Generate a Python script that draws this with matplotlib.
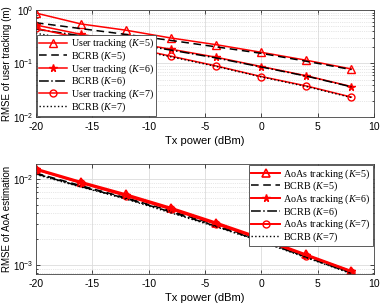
import numpy as np
import matplotlib
matplotlib.use('Agg')
from matplotlib import pyplot as plt
from matplotlib.ticker import LogLocator, NullFormatter

plt.rcParams['font.family'] = 'Liberation Sans'
plt.rcParams['mathtext.fontset'] = 'custom'
plt.rcParams['mathtext.rm'] = 'Liberation Sans'
plt.rcParams['mathtext.it'] = 'Liberation Serif:italic'
plt.rcParams['axes.unicode_minus'] = False

tx_power = [-20, -16, -12, -8, -4, 0, 4, 8]

# user tracking RMSE (m)
ut_k5 = [0.88, 0.55, 0.42, 0.30, 0.225, 0.162, 0.115, 0.079]
bcrb_ut_k5 = [0.58, 0.45, 0.35, 0.27, 0.205, 0.155, 0.11, 0.077]
ut_k6 = [0.525, 0.352, 0.257, 0.185, 0.131, 0.0877, 0.0589, 0.037]
bcrb_ut_k6 = [0.44, 0.33, 0.245, 0.178, 0.127, 0.086, 0.058, 0.0365]
ut_k7 = [0.456, 0.296, 0.207, 0.137, 0.090, 0.057, 0.038, 0.0235]
bcrb_ut_k7 = [0.367, 0.27, 0.197, 0.133, 0.088, 0.056, 0.037, 0.023]

# AoA estimation RMSE
aoa_k5 = [0.0131, 0.0092, 0.0066, 0.0046, 0.0031, 0.00205, 0.00132, 0.00085]
bcrb_aoa_k5 = [0.0116, 0.0083, 0.0060, 0.0042, 0.0029, 0.00192, 0.00125, 0.00081]
aoa_k6 = [0.0128, 0.0090, 0.0064, 0.0045, 0.0030, 0.00200, 0.00129, 0.00084]
bcrb_aoa_k6 = [0.0114, 0.0081, 0.0059, 0.0041, 0.0028, 0.00189, 0.00123, 0.00080]
aoa_k7 = [0.0127, 0.0089, 0.0063, 0.0044, 0.00297, 0.00198, 0.00128, 0.00083]
bcrb_aoa_k7 = [0.0112, 0.0080, 0.0058, 0.0040, 0.00276, 0.00186, 0.00121, 0.00079]

red = '#ff0000'
fig = plt.figure(figsize=(3.82, 3.06), dpi=100)
ax1 = fig.add_axes([0.094, 0.618, 0.885, 0.349])
ax2 = fig.add_axes([0.094, 0.105, 0.885, 0.359])


def style_axes(ax):
    ax.set_yscale('log')
    ax.set_xlim(-20, 10)
    ax.set_xticks(range(-20, 11, 5))
    ax.grid(True, which='major', color='#dcdcdc', linewidth=0.6)
    ax.grid(True, which='minor', axis='y', color='#d0d0d0', linewidth=0.5, linestyle=':')
    ax.tick_params(which='both', direction='in', top=True, right=True, width=0.5)
    ax.tick_params(axis='x', labelsize=7.5)
    ax.tick_params(axis='y', labelsize=7, pad=2)
    ax.tick_params(which='major', length=3)
    ax.tick_params(which='minor', length=1.5)
    ax.yaxis.set_minor_locator(LogLocator(base=10, subs=np.arange(2, 10)))
    ax.yaxis.set_minor_formatter(NullFormatter())
    for s in ax.spines.values():
        s.set_linewidth(0.6)
        s.set_color('#404040')
    ax.set_axisbelow(True)
    ax.set_xlabel('Tx power (dBm)', fontsize=8, labelpad=3)


legend_font = {'family': 'Liberation Serif', 'size': 7.3}
leg_kw = dict(prop=legend_font, fancybox=False, edgecolor='#404040', framealpha=1,
              handlelength=2.8, borderpad=0.2, labelspacing=-0.08,
              handletextpad=0.35, borderaxespad=0.1)

ax1.plot(tx_power, ut_k5, color=red, lw=1.1, marker='^', ms=5.5, mfc='none', mew=1.0, label='User tracking ($K$=5)')
ax1.plot(tx_power, bcrb_ut_k5, color='black', lw=1.1, ls=(0, (5, 3)), label='BCRB ($K$=5)')
ax1.plot(tx_power, ut_k6, color=red, lw=1.1, marker='*', ms=5.5, mew=1.0, label='User tracking ($K$=6)')
ax1.plot(tx_power, bcrb_ut_k6, color='black', lw=1.1, ls='-.', label='BCRB ($K$=6)')
ax1.plot(tx_power, ut_k7, color=red, lw=1.1, marker='o', ms=5, mfc='none', mew=1.0, label='User tracking ($K$=7)')
ax1.plot(tx_power, bcrb_ut_k7, color='black', lw=1.0, ls=':', label='BCRB ($K$=7)')
style_axes(ax1)
ax1.set_ylim(1e-2, 1)
ax1.set_ylabel('RMSE of user tracking (m)', fontsize=7)
ax1.yaxis.set_label_coords(-0.071, 0.5)
leg1 = ax1.legend(loc='lower left', **leg_kw)
leg1.get_frame().set_linewidth(0.6)

ax2.plot(tx_power, aoa_k5, color=red, lw=1.4, marker='^', ms=5.5, mfc='none', mew=1.2, label='AoAs tracking ($K$=5)')
ax2.plot(tx_power, bcrb_aoa_k5, color='black', lw=1.1, ls=(0, (5, 3)), label='BCRB ($K$=5)')
ax2.plot(tx_power, aoa_k6, color=red, lw=1.4, marker='*', ms=5.5, mew=1.0, label='AoAs tracking ($K$=6)')
ax2.plot(tx_power, bcrb_aoa_k6, color='black', lw=1.1, ls='-.', label='BCRB ($K$=6)')
ax2.plot(tx_power, aoa_k7, color=red, lw=1.4, marker='o', ms=5, mfc='none', mew=1.0, label='AoAs tracking ($K$=7)')
ax2.plot(tx_power, bcrb_aoa_k7, color='black', lw=1.0, ls=':', label='BCRB ($K$=7)')
style_axes(ax2)
ax2.set_ylim(7.86e-4, 1.48e-2)
ax2.set_ylabel('RMSE of AoA estimation', fontsize=7)
ax2.yaxis.set_label_coords(-0.071, 0.5)
leg2 = ax2.legend(loc='upper right', **leg_kw)
leg2.get_frame().set_linewidth(0.6)

fig.savefig('out.png', dpi=100)
